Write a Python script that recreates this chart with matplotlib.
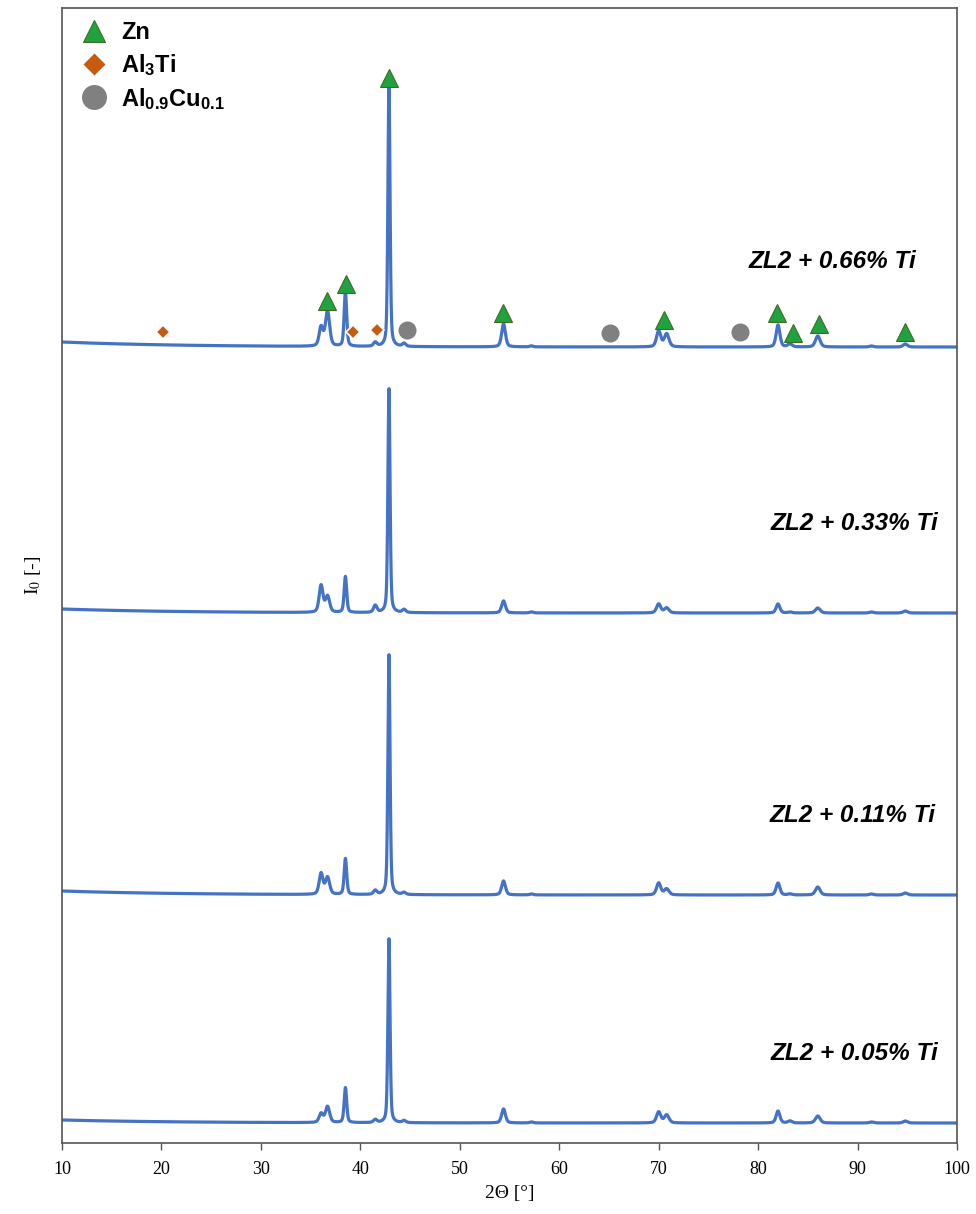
import numpy as np
import matplotlib
matplotlib.use("Agg")
import matplotlib.pyplot as plt
from matplotlib.lines import Line2D

plt.rcParams['mathtext.fontset'] = 'custom'
plt.rcParams['mathtext.rm'] = 'Liberation Sans:bold'
plt.rcParams['mathtext.it'] = 'Liberation Sans:bold:italic'
plt.rcParams['mathtext.bf'] = 'Liberation Sans:bold'

# ---------------- data ----------------
sample_labels = ['ZL2 + 0.66% Ti', 'ZL2 + 0.33% Ti', 'ZL2 + 0.11% Ti', 'ZL2 + 0.05% Ti']
sample_offsets = [796, 530, 248, 20]          # stacking offset (a.u.)
background_rise = [5, 4, 4, 3]                # extra background at low angle (a.u.)

peak_positions = [36.05, 36.7, 38.5, 41.5, 42.88, 44.4, 54.4, 57.2,
                  70.0, 70.8, 82.0, 83.2, 86.0, 91.4, 94.8]
peak_fwhm = [0.45, 0.5, 0.3, 0.4, 0.25, 0.4, 0.45, 0.4,
             0.5, 0.55, 0.45, 0.5, 0.55, 0.5, 0.5]
intensity_066 = [19, 35, 54, 4, 262, 3, 23, 1, 16, 13, 22, 3, 11, 1, 3]
intensity_033 = [27, 16, 36, 7, 224, 3, 12, 1, 9, 5, 9, 1, 5, 1, 2]
intensity_011 = [21, 17, 36, 4, 240, 2, 14, 1, 12, 6, 12, 1, 8, 1, 2]
intensity_005 = [9, 16, 35, 3, 184, 2, 14, 1, 11, 8, 12, 2, 7, 1, 2]
intensities = [intensity_066, intensity_033, intensity_011, intensity_005]

# phase markers (top pattern)
zn_2theta = [36.65, 38.56, 42.88, 54.35, 70.5, 81.9, 83.5, 86.1, 94.8]
zn_y = [842, 859, 1065, 830, 823, 830, 810, 819, 811]
al3ti_2theta = [20.2, 39.3, 41.7]
al3ti_y = [811, 811, 813]
alcu_2theta = [44.7, 65.1, 78.2]
alcu_y = [813, 810, 811]

x_ticks = [10, 20, 30, 40, 50, 60, 70, 80, 90, 100]

# ---------------- build patterns ----------------
two_theta = np.linspace(10, 100, 6001)


def pattern(ints, offset, rise):
    y = offset + rise * np.exp(-(two_theta - 10) / 12.0)
    for p, w, h in zip(peak_positions, peak_fwhm, ints):
        s = w / 2.3548
        g = np.exp(-0.5 * ((two_theta - p) / s) ** 2)
        lor = 1.0 / (1.0 + ((two_theta - p) / (w / 2)) ** 2)
        y = y + h * (0.6 * g + 0.4 * lor)
    return y


# ---------------- figure ----------------
fig = plt.figure(figsize=(9.76, 12.14), dpi=100)
ax = fig.add_axes([62 / 976, 1 - 1143 / 1214, (957 - 62) / 976, (1143 - 8) / 1214])

line_color = '#4472C4'
for ints, off, rise in zip(intensities, sample_offsets, background_rise):
    ax.plot(two_theta, pattern(ints, off, rise), color=line_color, lw=2.3, zorder=2,
            solid_joinstyle='round')

label_x = [95.9, 98.1, 97.8, 98.1]
label_y = [881, 620, 328, 90]
for lab, lx, ly in zip(sample_labels, label_x, label_y):
    ax.text(lx, ly, lab, ha='right', va='center', fontsize=17.5,
            fontfamily='Liberation Sans', fontweight='bold', fontstyle='italic')

zn_face, zn_edge = '#1fa33e', '#3d6b22'
ti_face = '#c55a11'
cu_face = '#808080'
ax.plot(zn_2theta, zn_y, ls='none', marker='^', ms=13, mfc=zn_face, mec=zn_edge, mew=0.8, zorder=4)
ax.plot(al3ti_2theta, al3ti_y, ls='none', marker='D', ms=7.5, mfc=ti_face, mec='white', mew=1.2, zorder=4)
ax.plot(alcu_2theta, alcu_y, ls='none', marker='o', ms=13, mfc=cu_face, mec='none', zorder=4)

handles = [
    Line2D([], [], ls='none', marker='^', ms=16, mfc=zn_face, mec=zn_edge, mew=0.8),
    Line2D([], [], ls='none', marker='D', ms=11.5, mfc=ti_face, mec='none'),
    Line2D([], [], ls='none', marker='o', ms=18, mfc=cu_face, mec='none'),
]
leg_labels = ['Zn', r'$\mathrm{Al_3Ti}$', r'$\mathrm{Al_{0.9}Cu_{0.1}}$']
leg = ax.legend(handles, leg_labels, loc='upper left', frameon=False,
                prop={'family': 'Liberation Sans', 'weight': 'bold', 'size': 17},
                handlelength=1.2, handletextpad=0.55, labelspacing=0.33,
                bbox_to_anchor=(0.0144, 0.9925), borderaxespad=0.0, borderpad=0.2)

ax.set_xlim(10, 100)
ax.set_ylim(0, 1135)
ax.set_xticks(x_ticks)
ax.set_xticklabels([str(t) for t in x_ticks], fontfamily='Liberation Serif', fontsize=13)
ax.set_yticks([])
ax.tick_params(axis='x', direction='out', length=5, width=1.0, color='#555555', pad=8)
for sp in ax.spines.values():
    sp.set_color('#555555')
    sp.set_linewidth(1.2)

ax.set_xlabel('2Θ [°]', fontfamily='Liberation Serif', fontsize=14, labelpad=5)
ax.set_ylabel(r'I$_0$ [-]', fontfamily='Liberation Serif', fontsize=14, labelpad=14,
              math_fontfamily='stix')

fig.savefig('out.png', dpi=100)
